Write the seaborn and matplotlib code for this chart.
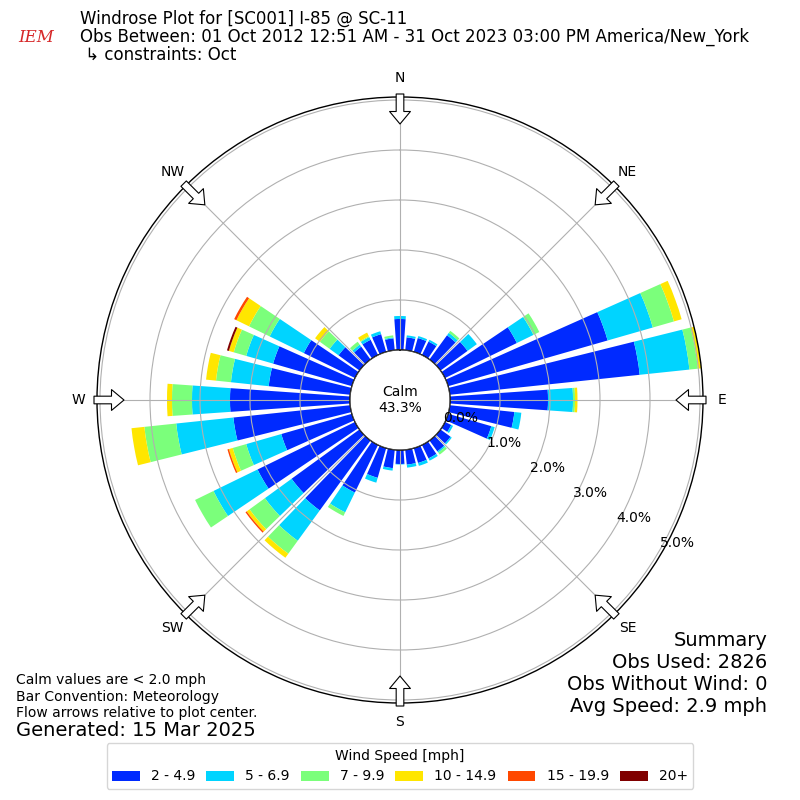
import numpy as np
import matplotlib
matplotlib.use('Agg')
import matplotlib.pyplot as plt
import seaborn as sns
from matplotlib.patches import Circle

# direction bins (degrees, meteorological: wind FROM)
directions = list(range(0, 360, 10))
speed_bins = ['2 - 4.9', '5 - 6.9', '7 - 9.9', '10 - 14.9', '15 - 19.9', '20+']
bin_colors = ['#002aff', '#00d4ff', '#7bff7b', '#ffe600', '#ff4800', '#800000']

# frequency (%) per direction for each speed bin
spd_2_5 = [0.62, 0.26, 0.29, 0.30, 0.60, 0.67, 1.60, 3.32, 3.82, 1.96, 1.30, 0.90,
           0.14, 0.25, 0.27, 0.30, 0.31, 0.30, 0.28, 0.37, 0.62, 1.06, 1.73, 1.68,
           2.17, 1.47, 2.35, 2.40, 1.64, 1.64, 1.14, 0.52, 0.32, 0.34, 0.37, 0.24]
spd_5_7 = [0.06, 0.04, 0.04, 0.04, 0.06, 0.23, 0.37, 0.94, 1.00, 0.50, 0.14, 0.07,
           0.04, 0.03, 0.03, 0.05, 0.06, 0.06, 0.01, 0.05, 0.10, 0.44, 0.75, 0.66,
           0.98, 0.73, 1.15, 0.76, 0.76, 0.56, 0.76, 0.22, 0.05, 0.06, 0.06, 0.02]
spd_7_10 = [0, 0, 0, 0, 0.05, 0, 0.13, 0.44, 0.17, 0.04, 0, 0,
            0, 0, 0.05, 0, 0, 0, 0, 0, 0, 0.08, 0.32, 0.38,
            0.41, 0.28, 0.64, 0.40, 0.30, 0.26, 0.46, 0.24, 0.07, 0.02, 0, 0.04]
spd_10_15 = [0, 0, 0, 0, 0, 0, 0, 0.16, 0.07, 0.05, 0, 0,
             0, 0, 0, 0, 0, 0, 0, 0, 0, 0, 0.10, 0.07,
             0, 0.08, 0.26, 0.10, 0.20, 0.10, 0.28, 0.12, 0, 0.08, 0, 0]
spd_15_20 = [0, 0, 0, 0, 0, 0, 0, 0, 0, 0, 0, 0,
             0, 0, 0, 0, 0, 0, 0, 0, 0, 0, 0, 0.03,
             0, 0.03, 0, 0, 0, 0, 0.05, 0, 0, 0, 0, 0]
spd_20p = [0, 0, 0, 0, 0, 0, 0, 0, 0, 0, 0, 0,
           0, 0, 0, 0, 0, 0, 0, 0, 0, 0, 0, 0,
           0, 0, 0, 0, 0, 0.04, 0, 0, 0, 0, 0, 0]
series = [spd_2_5, spd_5_7, spd_7_10, spd_10_15, spd_15_20, spd_20p]

radial_ticks = [0, 1, 2, 3, 4, 5]
compass_labels = ['N', 'NE', 'E', 'SE', 'S', 'SW', 'W', 'NW']
calm_pct = 43.3
rmax = 5.06
rorigin = -1.0

sns.set_style('white', {'axes.edgecolor': 'black', 'text.color': 'black',
                        'xtick.color': 'black', 'ytick.color': 'black'})
palette = sns.color_palette(bin_colors)

fig = plt.figure(figsize=(8, 8), dpi=100)
ax = fig.add_axes([0.12125, 0.12125, 0.7575, 0.7575], projection='polar')
ax.set_theta_zero_location('N')
ax.set_theta_direction(-1)

theta = np.deg2rad(directions)
bottom = np.zeros(len(directions))
handles = []
for label, vals, color in zip(speed_bins, series, palette):
    bars = ax.bar(theta, vals, width=np.deg2rad(8), bottom=bottom,
                  color=color, label=label, linewidth=0)
    handles.append(bars)
    bottom += np.array(vals)

ax.set_rorigin(rorigin)
ax.set_ylim(0, rmax)
ax.set_yticks(radial_ticks)
ax.set_yticklabels([])
ax.set_xticks(np.deg2rad(np.arange(0, 360, 45)))
ax.set_xticklabels(compass_labels, fontsize=10)
ax.tick_params(axis='x', pad=3)
ax.grid(True, color='#b0b0b0', lw=0.8)
ax.set_axisbelow(False)
ax.spines['polar'].set_linewidth(1.0)

# radial labels along a fixed bearing
for r in radial_ticks:
    ax.text(np.deg2rad(120), r, f'{r:.1f}%', ha='left', va='bottom', fontsize=10, zorder=4)

# calm circle
calm_r = 0.5 * (0 - rorigin) / (rmax - rorigin)
ax.add_patch(Circle((0.5, 0.5), calm_r, transform=ax.transAxes, fc='white',
                    ec='black', lw=1, zorder=3))
ax.text(0.5, 0.5, f'Calm\n{calm_pct}%', transform=ax.transAxes, ha='center',
        va='center', fontsize=10, zorder=4)

# flow arrows on the edge
for ang in range(0, 360, 45):
    ax.annotate('', xy=(np.deg2rad(ang), 4.52), xytext=(np.deg2rad(ang), 5.12),
                arrowprops=dict(arrowstyle='simple,head_length=0.9,head_width=1.5,tail_width=0.55',
                                fc='white', ec='black', lw=0.8, shrinkA=0, shrinkB=0,
                                mutation_scale=10),
                annotation_clip=False, zorder=5)

# header
fig.text(0.1, 1 - 19 / 800, 'Windrose Plot for [SC001] I-85 @ SC-11', fontsize=12, va='center')
fig.text(0.1, 1 - 37 / 800, 'Obs Between: 01 Oct 2012 12:51 AM - 31 Oct 2023 03:00 PM America/New_York',
         fontsize=12, va='center')
fig.text(0.1, 1 - 55 / 800, ' \u21b3 constraints: Oct', fontsize=12, va='center')
fig.text(0.045, 1 - 38 / 800, 'IEM', fontsize=12, color='#d62728', style='italic',
         family='serif', ha='center', va='center')

# footer notes
fig.text(0.02, 1 - 680 / 800, 'Calm values are < 2.0 mph', fontsize=10, va='center')
fig.text(0.02, 1 - 697 / 800, 'Bar Convention: Meteorology', fontsize=10, va='center')
fig.text(0.02, 1 - 713 / 800, 'Flow arrows relative to plot center.', fontsize=10, va='center')
fig.text(0.02, 1 - 730 / 800, 'Generated: 15 Mar 2025', fontsize=14, va='center')

summary = ['Summary', 'Obs Used: 2826', 'Obs Without Wind: 0', 'Avg Speed: 2.9 mph']
for i, line in enumerate(summary):
    fig.text(0.959, 1 - (640 + 22 * i) / 800, line, fontsize=14, ha='right', va='center')

fig.legend(handles, speed_bins, loc='lower center', bbox_to_anchor=(0.5, 0.005), ncol=6,
           title='Wind Speed [mph]', fontsize=10, title_fontsize=10, frameon=True,
           columnspacing=0.8)

fig.savefig('out.png', dpi=100, facecolor='white')
